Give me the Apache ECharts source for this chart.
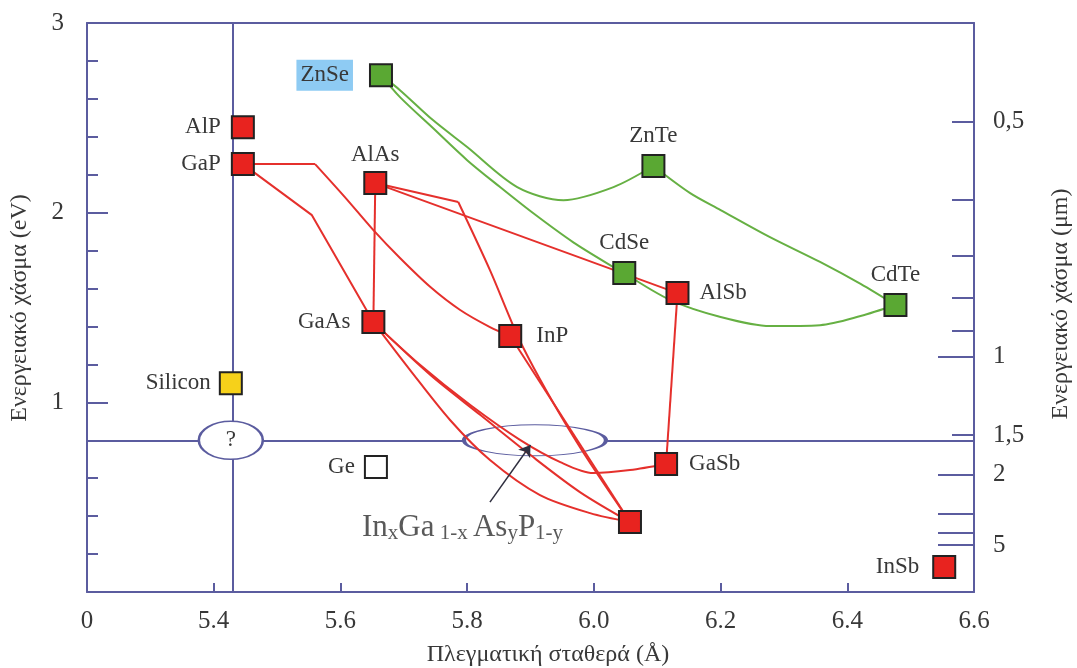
<!DOCTYPE html>
<html>
<head>
<meta charset="utf-8">
<script src="https://cdn.jsdelivr.net/npm/echarts@6/dist/echarts.min.js"></script>
<style>
  html, body { margin: 0; padding: 0; background: #fff; }
  #chart { width: 1077px; height: 668px; }
</style>
</head>
<body>
<div id="chart"></div>
<script>
// compounds: lattice constant (Å) and band gap (eV)
var names   = ["AlP", "GaP", "AlAs", "GaAs", "InP", "InAs", "GaSb", "AlSb", "InSb", "ZnSe", "ZnTe", "CdSe", "CdTe", "Silicon", "Ge"];
var lattice = [5.446, 5.446, 5.655, 5.652, 5.868, 6.057, 6.114, 6.132, 6.553, 5.664, 6.094, 6.048, 6.476, 5.427, 5.656];
var bandGap = [2.451, 2.256, 2.156, 1.423, 1.350, 0.369, 0.675, 1.576, 0.132, 2.725, 2.246, 1.682, 1.513, 1.100, 0.659];

// alloy curves (III-V)
var gapToGaas   = [[5.446, 2.256], [5.555, 1.987], [5.652, 1.423]];
var gapFlat     = [[5.446, 2.256], [5.560, 2.256]];
var gapToInp    = [[5.560, 2.256], [5.607, 2.082], [5.652, 1.908], [5.694, 1.761], [5.742, 1.608], [5.789, 1.487], [5.836, 1.397], [5.868, 1.350]];
var alasToGaas  = [[5.655, 2.156], [5.652, 1.423]];
var alasToAlsb  = [[5.655, 2.156], [6.132, 1.576]];
var alasKink    = [[5.655, 2.156], [5.786, 2.056]];
var alasToInas  = [[5.786, 2.056], [5.836, 1.697], [5.888, 1.292], [5.971, 0.801], [6.057, 0.369]];
var inpToInas   = [[5.868, 1.350], [6.057, 0.369]];
var gaasToGasb  = [[5.652, 1.423], [5.726, 1.197], [5.805, 0.986], [5.884, 0.801], [5.947, 0.685], [5.999, 0.627], [6.057, 0.643], [6.114, 0.675]];
var gaasToInasA = [[5.652, 1.423], [5.742, 1.144], [5.821, 0.933], [5.900, 0.722], [5.978, 0.527], [6.057, 0.369]];
var gaasToInasB = [[5.652, 1.423], [5.710, 1.170], [5.773, 0.907], [5.836, 0.696], [5.915, 0.511], [5.994, 0.416], [6.057, 0.369]];
var alsbToGasb  = [[6.132, 1.576], [6.114, 0.675]];

// alloy curves (II-VI)
var znseToZnte = [[5.664, 2.725], [5.694, 2.646], [5.746, 2.488], [5.800, 2.346], [5.879, 2.135], [5.952, 2.066], [6.031, 2.135], [6.094, 2.246]];
var znseToCdse = [[5.664, 2.725], [5.694, 2.609], [5.746, 2.446], [5.800, 2.277], [5.852, 2.135], [5.904, 1.998], [5.967, 1.845], [6.031, 1.713], [6.048, 1.682]];
var znteToCdte = [[6.094, 2.246], [6.152, 2.103], [6.200, 2.014], [6.278, 1.871], [6.357, 1.740], [6.421, 1.624], [6.476, 1.513]];
var cdseToCdte = [[6.048, 1.682], [6.121, 1.539], [6.200, 1.450], [6.278, 1.402], [6.357, 1.407], [6.421, 1.455], [6.476, 1.513]];

// guide lines, ellipses, arrow
var guideLattice = 5.427;
var guideGap = 0.8;
var ellipseCenters = [[5.427, 0.8], [5.907, 0.8]];
var arrowFrom = [5.836, 0.474];
var arrowTo = [5.900, 0.775];
var alloyTextAt = [5.634, 0.337];

// right axis (wavelength, µm)
var wlLongTicks = [1, 2, 3, 4, 5];
var wlShortTicks = [0.5, 0.6, 0.7, 0.8, 0.9, 1.5];
var wlLabels = [0.5, 1, 1.5, 2, 5];

var AX = "#5b5c9f";
var TXT = "#383838";
var FONT = "'Liberation Serif', 'DejaVu Serif', serif";
var GREEN = "#66b043";
var RED = "#e5302c";

var fillOf = {
  ZnSe: "#5aa833", ZnTe: "#5aa833", CdSe: "#5aa833", CdTe: "#5aa833",
  Silicon: "#f6d11a", Ge: "#ffffff"
};
// label side / distance per compound
var labelOf = {
  AlP: ["left", 10], GaP: ["left", 10], AlAs: ["top", 5], GaAs: ["left", 11],
  InP: ["right", 14], InAs: null, GaSb: ["right", 11], AlSb: ["right", 10],
  InSb: ["left", 13], ZnSe: ["left", 16], ZnTe: ["top", 7], CdSe: ["top", 7],
  CdTe: ["top", 7], Silicon: ["left", 8], Ge: ["left", 9]
};

function toEnergy(um) { return 1.24 / um; }
function wlText(e) { return String(Math.round(1.24 / e * 10) / 10).replace(".", ","); }

var chartDom = echarts.init(document.getElementById("chart"));

function curve(data, color, smooth) {
  return {
    type: "line",
    data: data,
    showSymbol: false,
    smooth: smooth ? 0.3 : false,
    silent: true,
    z: 3,
    lineStyle: { color: color, width: 2 }
  };
}

var markerData = names.map(function (n, i) {
  var lb = labelOf[n];
  var item = {
    name: n,
    value: [lattice[i], bandGap[i]],
    itemStyle: { color: fillOf[n] || "#e8231f" },
    label: lb ? { show: true, position: lb[0], distance: lb[1] } : { show: false }
  };
  if (n === "ZnSe") {
    item.label.backgroundColor = "#8ecbf3";
    item.label.padding = [5, 4, 3, 4];
  }
  return item;
});

var option = {
  animation: false,
  backgroundColor: "#ffffff",
  textStyle: { fontFamily: FONT },
  grid: { left: 87, right: 103, top: 23, bottom: 76 },
  xAxis: [
    {
      type: "value", min: 5.2, max: 6.6, interval: 0.2,
      axisLine: { show: true, onZero: false, lineStyle: { color: AX, width: 2 } },
      axisTick: { show: true, inside: true, length: 9, lineStyle: { color: AX, width: 2 } },
      axisLabel: {
        margin: 17, fontSize: 25, color: TXT, fontFamily: FONT,
        formatter: function (v) { return Math.abs(v - 5.2) < 1e-6 ? "0" : v.toFixed(1); }
      },
      splitLine: { show: false }
    },
    {
      type: "value", position: "top", min: 5.2, max: 6.6,
      axisLine: { show: true, onZero: false, lineStyle: { color: AX, width: 2 } },
      axisTick: { show: false }, axisLabel: { show: false }, splitLine: { show: false }
    }
  ],
  yAxis: [
    {
      type: "value", position: "left", min: 0, max: 3, interval: 1,
      axisLine: { show: true, onZero: false, lineStyle: { color: AX, width: 2 } },
      axisTick: { show: true, inside: true, length: 21, lineStyle: { color: AX, width: 2 } },
      minorTick: { show: true, splitNumber: 5, length: 11, lineStyle: { color: AX, width: 2 } },
      axisLabel: {
        margin: 23, fontSize: 25, color: TXT, fontFamily: FONT,
        formatter: function (v) { return v === 0 ? "" : String(v); }
      },
      splitLine: { show: false }
    },
    {
      type: "value", position: "right", min: 0, max: 3,
      axisLine: { show: true, onZero: false, lineStyle: { color: AX, width: 2 } },
      axisTick: { show: true, inside: true, length: 36, customValues: wlLongTicks.map(toEnergy), lineStyle: { color: AX, width: 2 } },
      axisLabel: {
        show: true, margin: 19, fontSize: 25, color: TXT, fontFamily: FONT,
        customValues: wlLabels.map(toEnergy), formatter: wlText
      },
      splitLine: { show: false }
    },
    {
      type: "value", position: "right", min: 0, max: 3,
      axisLine: { show: false },
      axisTick: { show: true, inside: true, length: 22, customValues: wlShortTicks.map(toEnergy), lineStyle: { color: AX, width: 2 } },
      axisLabel: { show: false },
      splitLine: { show: false }
    }
  ],
  graphic: [
    {
      type: "text", x: 20, y: 308, rotation: Math.PI / 2,
      style: { text: "Ενεργειακό χάσμα (eV)", font: "24px " + FONT, fill: TXT, textAlign: "center", textVerticalAlign: "middle" }
    },
    {
      type: "text", x: 1061, y: 304, rotation: Math.PI / 2,
      style: { text: "Ενεργειακό χάσμα (μm)", font: "24px " + FONT, fill: TXT, textAlign: "center", textVerticalAlign: "middle" }
    },
    {
      type: "text", x: 548, y: 655,
      style: { text: "Πλεγματική σταθερά (Å)", font: "24px " + FONT, fill: TXT, textAlign: "center", textVerticalAlign: "middle" }
    }
  ],
  series: [
    {
      type: "scatter", data: [], z: 1, silent: true,
      markLine: {
        z: 1, silent: true, symbol: "none", label: { show: false },
        lineStyle: { color: AX, width: 2, type: "solid" },
        data: [{ xAxis: guideLattice }, { yAxis: guideGap }]
      }
    },
    {
      type: "scatter", z: 2, silent: true, symbol: "circle",
      itemStyle: { color: "#ffffff", opacity: 1, borderColor: AX, borderWidth: 2 },
      data: [
        { value: ellipseCenters[0], symbolSize: [64, 38], label: { show: true, position: "inside", formatter: "?", fontSize: 23, color: TXT, fontFamily: FONT } },
        { value: ellipseCenters[1], symbolSize: [142, 31] }
      ]
    },
    curve(gapToGaas, RED, false),
    curve(gapFlat, RED, false),
    curve(gapToInp, RED, true),
    curve(alasToGaas, RED, false),
    curve(alasToAlsb, RED, false),
    curve(alasKink, RED, false),
    curve(alasToInas, RED, true),
    curve(inpToInas, RED, false),
    curve(gaasToGasb, RED, true),
    curve(gaasToInasA, RED, true),
    curve(gaasToInasB, RED, true),
    curve(alsbToGasb, RED, false),
    curve(znseToZnte, GREEN, true),
    curve(znseToCdse, GREEN, true),
    curve(znteToCdte, GREEN, true),
    curve(cdseToCdte, GREEN, true),
    {
      type: "scatter", data: [], z: 4, silent: true,
      markLine: {
        z: 4, silent: true, symbol: ["none", "arrow"], symbolSize: 11, label: { show: false },
        lineStyle: { color: "#2f2f3f", width: 1.5, type: "solid" },
        data: [[{ coord: arrowFrom }, { coord: arrowTo }]]
      }
    },
    {
      type: "scatter", z: 5, silent: true,
      symbol: "rect", symbolSize: 22,
      itemStyle: { opacity: 1, borderColor: "#222222", borderWidth: 2 },
      label: { color: TXT, fontSize: 23, fontFamily: FONT, formatter: "{b}" },
      data: markerData
    },
    {
      type: "scatter", z: 5, silent: true, symbolSize: 0,
      data: [{ value: alloyTextAt }],
      label: {
        show: true, position: "right", distance: 0,
        formatter: "{n|In}{s|x}{n|Ga}{s| 1-x }{n|As}{s|y}{n|P}{s|1-y}",
        rich: {
          n: { fontSize: 31, fontFamily: FONT, color: "#303030", lineHeight: 32, verticalAlign: "top" },
          s: { fontSize: 21, fontFamily: FONT, color: "#303030", lineHeight: 20, verticalAlign: "bottom", padding: [27, 0, 0, 0] }
        }
      }
    }
  ]
};

chartDom.setOption(option);
</script>
</body>
</html>
